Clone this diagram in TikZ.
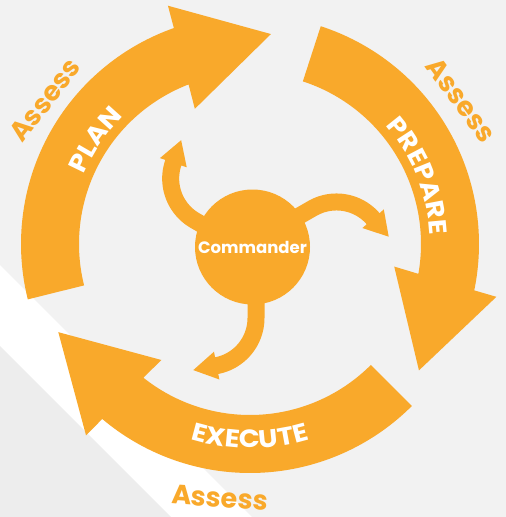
\documentclass[tikz,border=0pt]{standalone}
\usepackage{fontspec}
\setmainfont{Poppins}
\newfontfamily\widefont{Poppins}[FakeStretch=1.1]
\usetikzlibrary{decorations.text}
\definecolor{org}{HTML}{F9A92B}
\definecolor{bg}{HTML}{F2F2F2}
\definecolor{bgdark}{HTML}{EDEDED}
% ring arrow: tail angle, base angle (math angles, clockwise arrow)
\newcommand{\ringarrow}[2]{%
 \fill[org] ({250+229*cos(#1)},{244-229*sin(#1)})
   -- plot[domain=#1:#2-1.18, samples=70] ({250+229*cos(\x)},{244-229*sin(\x)})
   -- ({250+252*cos(#2-1.6)},{244-252*sin(#2-1.6)})
   -- ({250+211*cos(#2-26.3)},{244-211*sin(#2-26.3)})
   -- ({250+146*cos(#2+1.6)},{244-146*sin(#2+1.6)})
   -- plot[domain=#2+0.45:#1, samples=70] ({250+171*cos(\x)},{244-171*sin(\x)})
   -- cycle;}
% small curved arrow, local coordinates, #1 = end of straight part
\newcommand{\smallarrow}[1]{%
 \fill[org] (12,20) -- (12,#1)
   -- plot[domain=0:79.1, samples=30] ({-45+57*cos(\x)},{#1+57*sin(\x)})
   -- (-33.1,{#1+61.5}) -- (-59.2,{#1+52.1}) -- (-38.5,{#1+33.7})
   -- plot[domain=79.1:0, samples=30] ({-45+40*cos(\x)},{#1+40*sin(\x)})
   -- (-5,20) -- cycle;}
\begin{document}
\begin{tikzpicture}[x=1pt,y=-1pt,
  assess/.style={text=org, inner sep=0pt, font=\fontsize{27}{27}\selectfont\bfseries},
  ringtext/.style={decorate, decoration={text along path, text align=center, text={|\color{white}\widefont\fontsize{25}{25}\selectfont\bfseries|#1}}}]
\useasboundingbox (0,0) rectangle (506,517);
\fill[bg] (0,0) rectangle (506,517);
\fill[white] (0,265) -- (252,517) -- (171,517) -- (0,346) -- cycle;
\fill[bgdark] (0,346) -- (171,517) -- (0,517) -- cycle;
% ring
\ringarrow{194}{110.6}
\ringarrow{72}{-10.5}
\ringarrow{315}{231}
% ring labels
\path[ringtext=PLAN] plot[domain=186:106, samples=80] ({250+180*cos(\x)},{244-180*sin(\x)});
\path[ringtext=PREPARE] plot[domain=66:-22, samples=80] ({250+180*cos(\x)},{244-180*sin(\x)});
\path[ringtext=EXECUTE] plot[domain=225:315, samples=80] ({250+204*cos(\x)},{244-204*sin(\x)});
% assess labels
\node[assess, rotate=52] (a1) at (45,100) {Assess};
\node[assess, rotate=-54] (a2) at (461,100) {Assess};
\node[assess, rotate=-4] (a3) at (220,498) {Assess};
% small arrows
\begin{scope}[shift={(252.5,247)}] \smallarrow{71} \end{scope}
\begin{scope}[shift={(252.5,247)}, rotate=120] \smallarrow{71} \end{scope}
\begin{scope}[shift={(249.5,248)}, rotate=240] \smallarrow{61} \end{scope}
% commander
\node[circle, fill=org, minimum size=115pt, inner sep=0pt, text=white,
  font=\fontsize{16.5}{16.5}\selectfont\bfseries] (cmd) at (252.5,247) {Commander};
\end{tikzpicture}
\end{document}
